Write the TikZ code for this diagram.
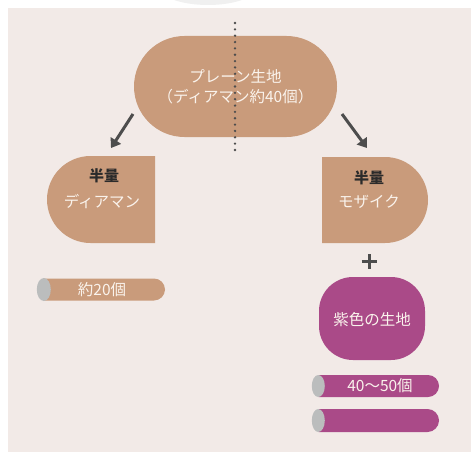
\documentclass[tikz,border=0pt]{standalone}
\usepackage{fontspec}
\newfontfamily\jp{Noto Sans CJK JP}
\usetikzlibrary{shapes.misc,shapes.geometric,arrows.meta}
\definecolor{bgc}{HTML}{F2EAE7}
\definecolor{tan}{HTML}{C99B7B}
\definecolor{purp}{HTML}{AA4A88}
\definecolor{capg}{HTML}{BBBDBD}
\definecolor{cream}{HTML}{FAF3EC}
\definecolor{ink}{HTML}{2B2B2B}
\definecolor{dgray}{HTML}{4D4D4D}
\tikzset{
  txt/.style={text=cream,font=\jp\fontsize{15.5}{20}\selectfont,inner sep=0pt,align=center},
  head/.style={text=ink,font=\jp\bfseries\fontsize{15}{16}\selectfont,inner sep=0pt},
  blob/.style={fill=tan,draw=none,inner sep=0pt},
  bar/.style={rounded rectangle,rounded rectangle left arc=none,minimum height=22pt,inner sep=0pt,draw=none},
  logend/.style={ellipse,fill=capg,draw=none,minimum width=13pt,minimum height=22pt,inner sep=0pt},
  arr/.style={draw=dgray,line width=3pt,-{Triangle[width=12pt,length=9pt]}},
  dotline/.style={draw=dgray,line width=2.6pt,dash pattern=on 0pt off 6.35pt,line cap=round},
}
\begin{document}
\begin{tikzpicture}[x=1pt,y=-1pt]
\useasboundingbox (0,0) rectangle (471,452);
\fill[white] (0,0) rectangle (471,452);
\begin{scope}
\clip (0,0) rectangle (471,8);
\fill[gray!12] (208,-14) ellipse [x radius=50pt, y radius=19pt];
\end{scope}
\fill[bgc] (8,8) rectangle (471,452);

% top plain dough
\node[blob,rounded rectangle,minimum width=203pt,minimum height=101pt] (top) at (235.5,86.5) {};
\node[txt] (toptxt) at (235.5,87) {プレーン生地\\（ディアマン約40個）};

% dotted divider
\coordinate (d1) at (235,23);
\coordinate (d2) at (235,150);
\draw[dotline] (d1) -- (d2);

% arrows
\coordinate (la1) at (133,114);
\coordinate (la2) at (111,148);
\coordinate (ra1) at (342,114);
\coordinate (ra2) at (367,148);
\draw[arr] (la1) -- (la2);
\draw[arr] (ra1) -- (ra2);

% left half
\node[blob,rounded rectangle,rounded rectangle right arc=none,minimum width=108pt,minimum height=87pt] (lhalf) at (101,199.5) {};
\node[head] (lh1) at (104,176) {半量};
\node[txt] (lh2) at (102,201) {ディアマン};

% right half
\node[blob,rounded rectangle,rounded rectangle left arc=none,minimum width=106pt,minimum height=86pt] (rhalf) at (375,200) {};
\node[head] (rh1) at (369,178) {半量};
\node[txt] (rh2) at (369,202) {モザイク};

% plus
\coordinate (plus) at (369,261);
\draw[dgray,line width=3pt] ([xshift=-7.5pt]plus) -- ([xshift=7.5pt]plus);
\draw[dgray,line width=3pt] ([yshift=-7.5pt]plus) -- ([yshift=7.5pt]plus);

% purple dough
\node[fill=purp,rounded corners=34pt,minimum width=106pt,minimum height=83pt,inner sep=0pt] (purple) at (372,318.5) {};
\node[txt] (ptxt) at (372,320) {紫色の生地};

% left bar
\node[bar,fill=tan,minimum width=121pt] (lbar) at (104.5,289.5) {};
\node[logend,minimum width=14pt,minimum height=23pt] (lcap) at (lbar.west) {};
\node[txt] (lbtxt) at (102,290) {約20個};

% purple bars
\node[bar,fill=purp,minimum width=120.5pt] (pbar1) at (378.75,386) {};
\node[logend] (pcap1) at (pbar1.west) {};
\node[txt] (pb1txt) at (380,386) {40〜50個};
\node[bar,fill=purp,minimum width=120.5pt,minimum height=23pt] (pbar2) at (378.75,420.5) {};
\node[logend,minimum height=23pt] (pcap2) at (pbar2.west) {};
\end{tikzpicture}
\end{document}
